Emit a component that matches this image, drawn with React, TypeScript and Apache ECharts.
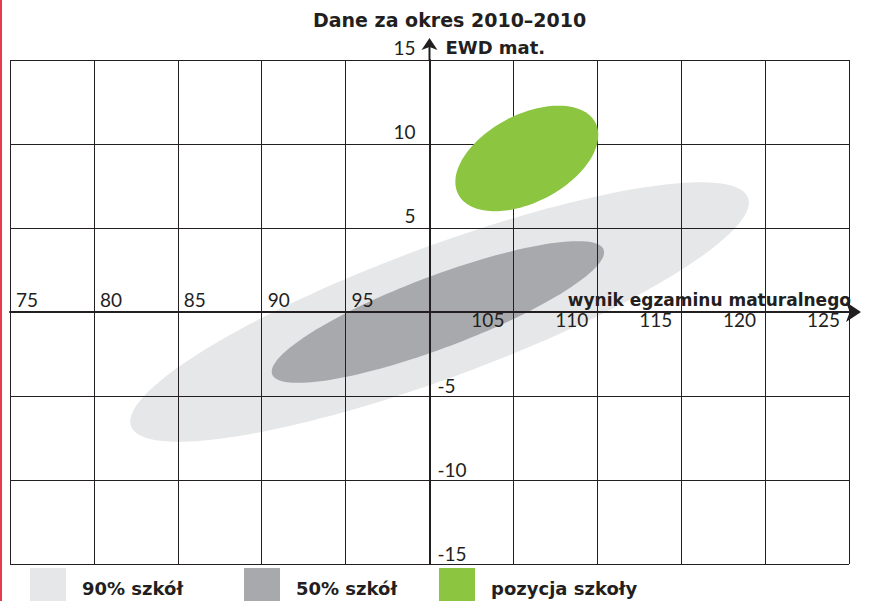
import React, { useEffect, useRef } from 'react';
import * as echarts from 'echarts';

const chartTitle = 'Dane za okres 2010–2010';
const xAxisName = 'wynik egzaminu maturalnego';
const yAxisName = 'EWD mat.';
const xMin = 75;
const xMax = 125;
const xStep = 5;
const yMin = -15;
const yMax = 15;
const yStep = 5;
const yAxisAtX = 100;
const xAxisAtY = 0;
const seriesNames = ['90% szkół', '50% szkół', 'pozycja szkoły'];
const seriesColors = ['#e6e7e8', '#a7a9ac', '#8cc540'];
// [centerX, centerY, semiMajor, semiMinor, angleDeg]
const ellipse90 = [100.6, 0.0, 19.6, 3.9, 20.3];
const ellipse50 = [100.5, 0.0, 10.55, 2.14, 20.6];
const ellipseSchool = [105.8, 9.14, 4.61, 2.6, 27.6];
const ellipses = [ellipse90, ellipse50, ellipseSchool];
const legendLefts = [30, 244, 439];

const W = 869;
const H = 601;
const GRID = { left: 10, right: 20, top: 60, bottom: 37 };
const INK = '#231f20';
const BOLD = "'DejaVu Sans', sans-serif";
const TICK = "Lato, sans-serif";

function renderEllipse(params: any, api: any) {
  const cx = api.value(0);
  const cy = api.value(1);
  const a = api.value(2);
  const b = api.value(3);
  const ang = (api.value(4) * Math.PI) / 180;
  const pts: number[][] = [];
  const n = 160;
  for (let i = 0; i < n; i++) {
    const t = (i / n) * Math.PI * 2;
    const dx = a * Math.cos(t);
    const dy = b * Math.sin(t);
    pts.push(
      api.coord([
        cx + dx * Math.cos(ang) - dy * Math.sin(ang),
        cy + dx * Math.sin(ang) + dy * Math.cos(ang),
      ])
    );
  }
  return {
    type: 'polygon',
    shape: { points: pts },
    style: { fill: api.visual('color') },
  };
}

export default function App() {
  const ref = useRef<HTMLDivElement>(null);
  useEffect(() => {
    document.body.style.margin = '0';
    const chart = echarts.init(ref.current!, null, { renderer: 'svg' });
    const gridW = W - GRID.left - GRID.right;
    const gridH = H - GRID.top - GRID.bottom;
    const yOffset = -(gridW * (yAxisAtX - xMin)) / (xMax - xMin);
    const xOffset = -(gridH * (xAxisAtY - yMin)) / (yMax - yMin);

    const baseX = {
      type: 'value',
      min: xMin,
      max: xMax,
      interval: xStep,
      position: 'bottom',
      offset: xOffset,
      z: 2,
      axisTick: { show: false },
    };
    const baseY = {
      type: 'value',
      min: yMin,
      max: yMax,
      interval: yStep,
      position: 'left',
      offset: yOffset,
      z: 2,
      axisTick: { show: false },
    };
    const tickFont = { fontFamily: TICK, fontSize: 19, color: INK };

    chart.setOption({
      animation: false,
      title: {
        text: chartTitle,
        left: 313,
        top: 10,
        padding: 0,
        textStyle: { fontFamily: BOLD, fontWeight: 'bold', fontSize: 19, color: INK },
      },
      grid: { ...GRID },
      legend: seriesNames.map((name, i) => ({
        data: [name],
        left: legendLefts[i],
        top: 568,
        padding: 0,
        icon: 'rect',
        itemWidth: 36,
        itemHeight: 40,
        selectedMode: false,
        textStyle: {
          fontFamily: BOLD,
          fontWeight: 'bold',
          fontSize: 18,
          color: INK,
          padding: [0, 0, 7, 11],
        },
      })),
      xAxis: [
        {
          ...baseX,
          axisLine: {
            onZero: false,
            lineStyle: { color: INK, width: 2 },
            symbol: ['none', 'arrow'],
            symbolSize: [15, 15],
            symbolOffset: [0, 12],
          },
          splitLine: { show: true, lineStyle: { color: INK, width: 1 } },
          axisLabel: {
            ...tickFont,
            inside: true,
            align: 'left',
            margin: 3,
            padding: [0, 0, 0, 6],
            showMinLabel: true,
            showMaxLabel: true,
            formatter: (v: number) => (v < yAxisAtX ? String(v) : ''),
          },
          name: xAxisName,
          nameLocation: 'end',
          nameGap: 2,
          nameTextStyle: {
            fontFamily: BOLD,
            fontWeight: 'bold',
            fontSize: 17,
            color: INK,
            align: 'right',
            verticalAlign: 'bottom',
            padding: [0, 0, 4, 0],
          },
        },
        {
          ...baseX,
          axisLine: { show: false, onZero: false },
          splitLine: { show: false },
          axisLabel: {
            ...tickFont,
            inside: false,
            align: 'right',
            margin: -2,
            padding: [0, 9, 0, 0],
            showMinLabel: true,
            showMaxLabel: true,
            formatter: (v: number) => (v > yAxisAtX ? String(v) : ''),
          },
        },
      ],
      yAxis: [
        {
          ...baseY,
          axisLine: {
            show: true,
            onZero: false,
            lineStyle: { color: INK, width: 2 },
            symbol: ['none', 'arrow'],
            symbolSize: [12, 12],
            symbolOffset: [0, 22],
          },
          splitLine: { show: true, lineStyle: { color: INK, width: 1 } },
          axisLabel: {
            ...tickFont,
            inside: false,
            align: 'right',
            verticalAlign: 'bottom',
            margin: 14,
            padding: [0, 0, 3, 0],
            showMinLabel: true,
            showMaxLabel: true,
            formatter: (v: number) => (v > 0 ? String(v) : ''),
          },
          name: yAxisName,
          nameLocation: 'end',
          nameGap: 4,
          nameTextStyle: {
            fontFamily: BOLD,
            fontWeight: 'bold',
            fontSize: 18,
            color: INK,
            align: 'left',
            verticalAlign: 'bottom',
            padding: [0, 0, 0, 16],
          },
        },
        {
          ...baseY,
          axisLine: { show: false, onZero: false },
          splitLine: { show: false },
          axisLabel: {
            ...tickFont,
            inside: true,
            align: 'left',
            verticalAlign: 'bottom',
            margin: 8,
            padding: [0, 0, 1, 0],
            showMinLabel: true,
            showMaxLabel: true,
            formatter: (v: number) => (v < 0 ? String(v) : ''),
          },
        },
      ],
      series: ellipses.map((e, i) => ({
        type: 'custom',
        name: seriesNames[i],
        xAxisIndex: 0,
        yAxisIndex: 0,
        z: i === 2 ? 5 : 1,
        itemStyle: { color: seriesColors[i] },
        renderItem: renderEllipse,
        encode: { x: 0, y: 1 },
        data: [e],
      })),
    });

    const yAxisPx = chart.convertToPixel({ xAxisIndex: 0 }, yAxisAtX) as number;
    const topPx = chart.convertToPixel({ yAxisIndex: 0 }, yMax) as number;
    const zeroPx = chart.convertToPixel({ yAxisIndex: 0 }, xAxisAtY) as number;
    const rightPx = chart.convertToPixel({ xAxisIndex: 0 }, xMax) as number;

    chart.setOption({
      graphic: [
        {
          type: 'rect',
          left: 0,
          top: 0,
          shape: { x: 0, y: 0, width: 2, height: H },
          style: { fill: '#e8394d' },
          z: 10,
        },
        {
          type: 'line',
          shape: { x1: yAxisPx, y1: topPx, x2: yAxisPx, y2: topPx - 18 },
          style: { stroke: INK, lineWidth: 2 },
          z: 10,
        },
        {
          type: 'line',
          shape: { x1: rightPx, y1: zeroPx, x2: rightPx + 8, y2: zeroPx },
          style: { stroke: INK, lineWidth: 2 },
          z: 10,
        },
      ],
    });

    return () => chart.dispose();
  }, []);
  return <div ref={ref} style={{ width: W, height: H }} />;
}
